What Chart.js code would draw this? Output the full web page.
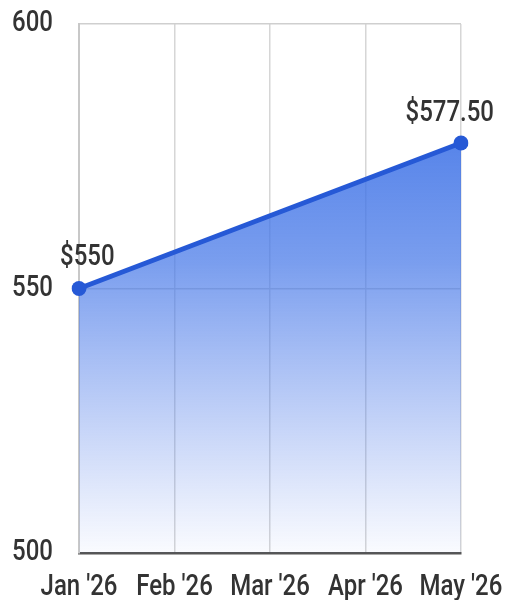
<!DOCTYPE html>
<html>
<head>
<meta charset="utf-8">
<script src="https://cdn.jsdelivr.net/npm/chart.js@4.4.1/dist/chart.umd.min.js"></script>
<style>
  html, body { margin: 0; padding: 0; background: #fff; }
  #wrap { width: 508px; height: 600px; }
</style>
</head>
<body>
<div id="wrap"><canvas id="priceChart"></canvas></div>
<script>
const months = ["Jan '26", "Feb '26", "Mar '26", "Apr '26", "May '26"];
// only the start and end prices are known, the line spans the gap
const prices = [550, null, null, null, 577.5];
const labeledPoints = [0, 4];
const valueLabels = ["$550", "$577.50"];
const yTicks = [500, 550, 600];

const TEXT_FONT = "500 24px Roboto";
const TEXT_COLOR = "#333";
const STRETCH = 1.22; // labels are drawn a bit taller than the font

function tallText(ctx, text, x, y, align) {
  ctx.save();
  ctx.translate(x, y);
  ctx.scale(1, STRETCH);
  ctx.textAlign = align;
  ctx.textBaseline = "middle";
  ctx.fillText(text, 0, 0);
  ctx.restore();
}

// tick labels and the two price labels, drawn by hand so they can be stretched
const labelText = {
  id: "labelText",
  afterDraw(chart) {
    const ctx = chart.ctx;
    const { x, y } = chart.scales;
    ctx.save();
    ctx.font = TEXT_FONT;
    ctx.fillStyle = TEXT_COLOR;

    y.ticks.forEach(t => tallText(ctx, String(t.value), y.right - 26, y.getPixelForValue(t.value), "right"));
    x.ticks.forEach((t, i) => tallText(ctx, x.getLabelForValue(t.value), x.getPixelForTick(i), x.top + 35, "center"));

    const meta = chart.getDatasetMeta(0);
    labeledPoints.forEach((idx, i) => {
      const pt = meta.data[idx];
      if (idx === 0) tallText(ctx, valueLabels[i], pt.x - 19, pt.y - 31, "left");
      else tallText(ctx, valueLabels[i], pt.x + 33, pt.y - 29, "right");
    });
    ctx.restore();
  }
};

// fixed axis boxes, no automatic label padding
const fixedBox = (size) => (scale) => {
  scale.paddingLeft = 0;
  scale.paddingRight = 0;
  scale.paddingTop = 0;
  scale.paddingBottom = 0;
  if (scale.isHorizontal()) scale.height = size;
  else scale.width = size;
};

new Chart(document.getElementById("priceChart"), {
  type: "line",
  data: {
    labels: months,
    datasets: [{
      data: prices,
      spanGaps: true,
      borderColor: "#2659d6",
      borderWidth: 5,
      pointRadius: 7.5,
      pointBackgroundColor: "#2659d6",
      pointBorderWidth: 0,
      tension: 0,
      fill: "start",
      backgroundColor: (context) => {
        const area = context.chart.chartArea;
        if (!area) return "rgba(60,110,225,0.5)";
        const g = context.chart.ctx.createLinearGradient(0, area.top, 0, area.bottom);
        g.addColorStop(0, "rgba(50,105,228,1)");
        g.addColorStop(0.45, "rgba(70,120,232,0.72)");
        g.addColorStop(1, "rgba(90,130,235,0.03)");
        return g;
      }
    }]
  },
  options: {
    responsive: true,
    maintainAspectRatio: false,
    animation: false,
    layout: { padding: { left: 13, right: 47, top: 24, bottom: 0 } },
    plugins: {
      legend: { display: false },
      tooltip: { enabled: false }
    },
    scales: {
      x: {
        offset: false,
        afterFit: fixedBox(47),
        grid: { color: "#d6d6d6", lineWidth: 1.5, drawTicks: false },
        border: { color: "#555", width: 2.5 },
        ticks: { color: "rgba(0,0,0,0)", font: { family: "Roboto", size: 24 }, padding: 20, maxRotation: 0 }
      },
      y: {
        min: 500,
        max: 600,
        afterFit: fixedBox(66),
        afterBuildTicks: (scale) => { scale.ticks = yTicks.map(v => ({ value: v })); },
        grid: { color: "#cfcfcf", lineWidth: 1.5, drawTicks: false },
        border: { color: "#c8c8c8", width: 2 },
        ticks: { color: "rgba(0,0,0,0)", font: { family: "Roboto", size: 24 }, padding: 26 }
      }
    }
  },
  plugins: [labelText]
});
</script>
</body>
</html>
